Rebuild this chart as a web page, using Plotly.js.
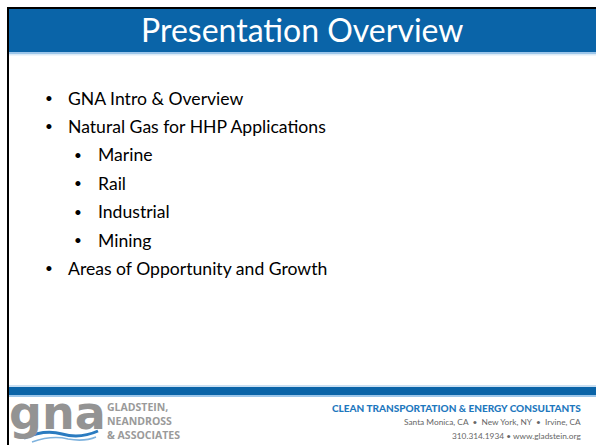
<!DOCTYPE html>
<html>
<head>
<meta charset="utf-8">
<script src="https://cdn.plot.ly/plotly-3.0.1.min.js"></script>
<style>html,body{margin:0;padding:0;background:#fff;}#chart{width:596px;height:445px;}</style>
</head>
<body>
<div id="chart"></div>
<script>
const slideTitle = "Presentation Overview";
const bulletText = ["GNA Intro & Overview", "Natural Gas for HHP Applications", "Marine", "Rail", "Industrial", "Mining", "Areas of Opportunity and Growth"];
const bulletLevel = [1, 1, 2, 2, 2, 2, 1];
const logoMark = "gna";
const firmName = ["GLADSTEIN,", "NEANDROSS", "& ASSOCIATES"];
const tagline = "CLEAN TRANSPORTATION & ENERGY CONSULTANTS";
const contactLines = ["Santa Monica, CA  •  New York, NY  •  Irvine, CA", "310.314.1934 • www.gladstein.org"];

const W = 596, H = 445;
const blue = "#0A64A8";
const bodyFont = "Lato, 'Open Sans', sans-serif";

const shapes = [
  {type: "rect", xref: "x", yref: "y", x0: 7, x1: 9, y0: 7, y1: H, fillcolor: "#000", line: {width: 0}},
  {type: "rect", xref: "x", yref: "y", x0: 7, x1: W, y0: 7, y1: 9, fillcolor: "#000", line: {width: 0}},
  {type: "rect", xref: "x", yref: "y", x0: 9, x1: W, y0: 9, y1: 52, fillcolor: blue, line: {width: 0}},
  {type: "rect", xref: "x", yref: "y", x0: 9, x1: W, y0: 52, y1: 54, fillcolor: "#9CC6EA", line: {width: 0}},
  {type: "rect", xref: "x", yref: "y", x0: 9, x1: W, y0: 54, y1: 55.5, fillcolor: "#DCEBF7", line: {width: 0}},
  {type: "rect", xref: "x", yref: "y", x0: 9, x1: W, y0: 385, y1: 387, fillcolor: "#C9DFF2", line: {width: 0}},
  {type: "rect", xref: "x", yref: "y", x0: 9, x1: W, y0: 387, y1: 395, fillcolor: blue, line: {width: 0}},
  {type: "rect", xref: "x", yref: "y", x0: 9, x1: W, y0: 395, y1: 397, fillcolor: "#9CC6EA", line: {width: 0}},
  {type: "path", xref: "x", yref: "y", path: "M 24 438 Q 45 429 62 434 Q 80 439 98 431", line: {color: "#2A7BC0", width: 3}},
  {type: "path", xref: "x", yref: "y", path: "M 32 442 Q 52 435 68 439 Q 84 442 96 437", line: {color: "#7FB3DE", width: 1.5}}
];

const annotations = [];
annotations.push({text: slideTitle, x: 302, y: 29, xref: "x", yref: "y", showarrow: false,
  xanchor: "center", yanchor: "middle", font: {family: bodyFont, size: 32, color: "#fff"}});

const rowTop = 98, rowStep = 28.4;
bulletText.forEach((t, i) => {
  const y = rowTop + i * rowStep;
  const lvl = bulletLevel[i];
  const bx = lvl === 1 ? 49 : 78;
  const tx = lvl === 1 ? 66 : 96;
  annotations.push({text: "•", x: bx, y: y, xref: "x", yref: "y", showarrow: false,
    xanchor: "center", yanchor: "middle", font: {family: bodyFont, size: 13.5, color: "#000"}});
  annotations.push({text: t, x: tx, y: y, xref: "x", yref: "y", showarrow: false,
    xanchor: "left", yanchor: "middle", font: {family: bodyFont, size: 17.6, color: "#000"}});
});

annotations.push({text: logoMark, x: 57, y: 413, xref: "x", yref: "y", showarrow: false,
  xanchor: "center", yanchor: "middle", font: {family: "'DejaVu Sans', sans-serif", size: 46, color: "#939393", weight: 900}});
firmName.forEach((t, i) => {
  annotations.push({text: t, x: 105, y: 407 + i * 14, xref: "x", yref: "y", showarrow: false,
    xanchor: "left", yanchor: "middle", font: {family: "'Open Sans', sans-serif", size: 10.5, color: "#9A9A9A", weight: 700}});
});
annotations.push({text: tagline, x: 583, y: 408, xref: "x", yref: "y", showarrow: false,
  xanchor: "right", yanchor: "middle", font: {family: "Lato, sans-serif", size: 10, color: "#1E78BE", weight: 900}});
contactLines.forEach((t, i) => {
  annotations.push({text: t, x: 583, y: 422 + i * 14, xref: "x", yref: "y", showarrow: false,
    xanchor: "right", yanchor: "middle", font: {family: "Lato, sans-serif", size: 8.3, color: "#666"}});
});

const layout = {
  width: W, height: H,
  margin: {l: 0, r: 0, t: 0, b: 0, pad: 0},
  paper_bgcolor: "#fff", plot_bgcolor: "#fff",
  xaxis: {range: [0, W], visible: false, fixedrange: true},
  yaxis: {range: [H, 0], visible: false, fixedrange: true},
  showlegend: false,
  shapes: shapes,
  annotations: annotations
};
Plotly.newPlot("chart", [], layout, {staticPlot: true, displayModeBar: false});
</script>
</body>
</html>
